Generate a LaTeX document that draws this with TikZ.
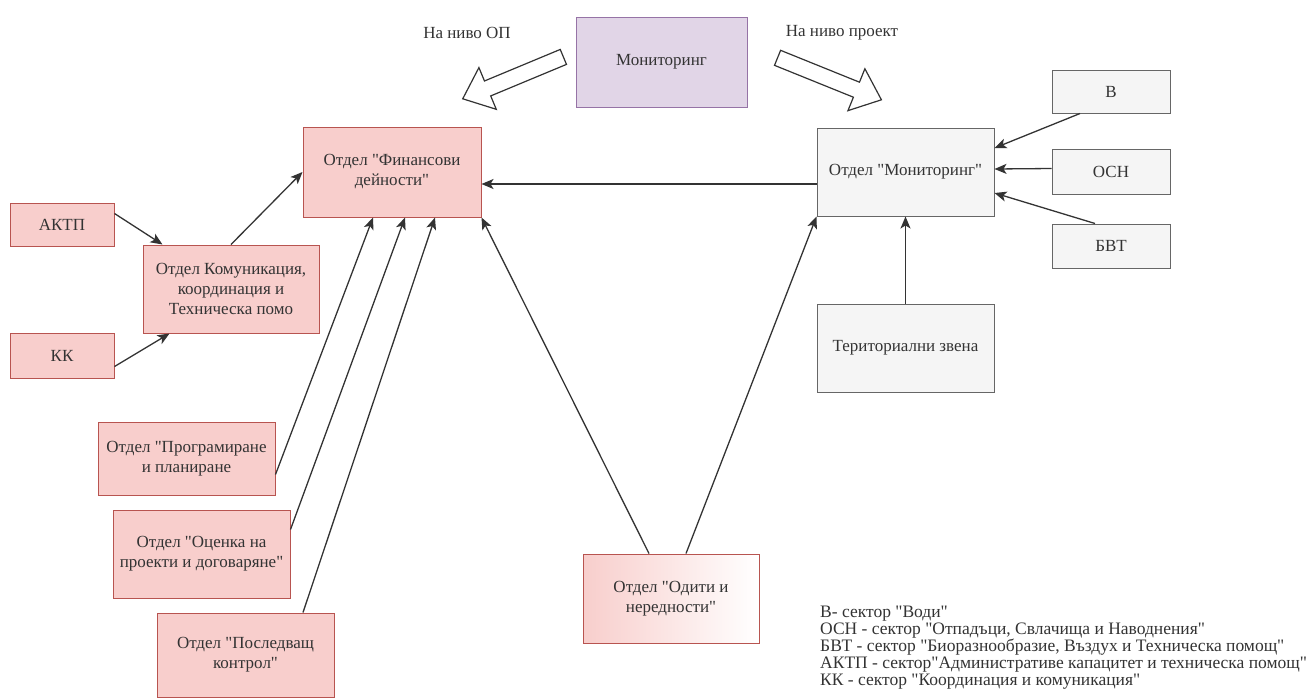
\documentclass[tikz,border=0pt]{standalone}
\usepackage{fontspec}
\setmainfont{Liberation Serif}[Ligatures=TeXOff]
\usetikzlibrary{arrows.meta,shapes.arrows}
\definecolor{pinkfill}{HTML}{F8CECC}
\definecolor{pinkline}{HTML}{B85450}
\definecolor{greyfill}{HTML}{F5F5F5}
\definecolor{greyline}{HTML}{666666}
\definecolor{lilacfill}{HTML}{E1D5E7}
\definecolor{lilacline}{HTML}{9673A6}
\definecolor{ink}{HTML}{333333}

\begin{document}
\begin{tikzpicture}[x=1pt,y=-1pt,
    box/.style={draw,line width=1pt,align=center,inner sep=2pt,text=ink,font=\fontsize{17}{20}\selectfont},
    pinkbox/.style={box,fill=pinkfill,draw=pinkline},
    greybox/.style={box,fill=greyfill,draw=greyline},
    link/.style={-{Stealth[length=12pt,width=10pt,inset=3pt]},line width=1.3pt,draw=ink},
    bigarrow/.style={single arrow,draw=ink,fill=white,line width=1.2pt,inner sep=7.5pt,
        single arrow head extend=14.5pt,single arrow tip angle=80}]
    \useasboundingbox (0,0) rectangle (1312,697);

    % top
    \node[box,fill=lilacfill,draw=lilacline,minimum width=171,minimum height=90] (mon) at (661.5,62) {Мониторинг};
    \node[text=ink,font=\fontsize{17}{20}\selectfont] (levop) at (467,33) {На ниво ОП};
    \node[text=ink,font=\fontsize{17}{20}\selectfont] (levpr) at (842,33) {На ниво проект};
    \node[bigarrow,minimum height=109,rotate=202.6] (arrop) at (517.5,76) {};
    \node[bigarrow,minimum height=112,rotate=-22] (arrpr) at (825,77) {};

    % left side
    \node[pinkbox,minimum width=178,minimum height=90] (fin) at (392,172) {Отдел "Финансови\\дейности"};
    \node[pinkbox,minimum width=104,minimum height=43] (aktp) at (62,224.5) {АКТП};
    \node[pinkbox,minimum width=176,minimum height=88] (kom) at (231,289) {Отдел Комуникация,\\координация и\\Техническа помо};
    \node[pinkbox,minimum width=104,minimum height=45] (kk) at (62,355.5) {КК};
    \node[pinkbox,minimum width=177,minimum height=73] (prog) at (186.5,458.5) {Отдел "Програмиране\\и планиране};
    \node[pinkbox,minimum width=177,minimum height=88] (ocen) at (201.5,554) {Отдел "Оценка на\\проекти и договаряне"};
    \node[pinkbox,minimum width=177,minimum height=84] (posl) at (245.5,655) {Отдел "Последващ\\контрол"};
    \node[box,left color=pinkfill,right color=white,draw=pinkline,minimum width=176,minimum height=89] (odit) at (671,598.5) {Отдел "Одити и\\нередности"};

    % right side
    \node[greybox,minimum width=177,minimum height=88] (omon) at (905.5,172) {Отдел "Мониторинг"};
    \node[greybox,minimum width=118,minimum height=43] (v) at (1111,91.5) {В};
    \node[greybox,minimum width=118,minimum height=45] (osn) at (1111,171.5) {ОСН};
    \node[greybox,minimum width=118,minimum height=44] (bvt) at (1111,246) {БВТ};
    \node[greybox,minimum width=177,minimum height=88] (ter) at (905.5,348) {Териториални звена};

    \draw[link] ([yshift=11]aktp.east) -- ([xshift=20]kom.north west);
    \draw[link] ([yshift=-11]kk.east) -- ([xshift=27]kom.south west);
    \draw[link] (kom.north) -- (fin.west);
    \draw[link] ([yshift=-16]prog.east) -- ([xshift=-19]fin.south);
    \draw[link] ([yshift=-20]ocen.north east) -- ([xshift=13]fin.south);
    \draw[link] ([xshift=57.5]posl.north) -- ([xshift=43]fin.south);
    \draw[link] ([xshift=-22]odit.north) -- (fin.south east);
    \draw[link] ([xshift=15]odit.north) -- (omon.south west);
    \draw[link] ([yshift=-12]omon.west) -- ([yshift=-12]fin.east);
    \draw[link] ([xshift=-31]v.south) -- ([yshift=24]omon.east);
    \draw[link] ([yshift=3]osn.west) -- ([yshift=3]omon.east);
    \draw[link] ([xshift=-16]bvt.north) -- ([yshift=-21]omon.east);
    \draw[link] (ter.north) -- (omon.south);

    % legend
    \node[anchor=north west,align=left,inner sep=0,text=ink,font=\fontsize{17.5}{17}\selectfont] (legend) at (820,606)
        {В- сектор "Води"\\
         ОСН - сектор "Отпадъци, Свлачища и Наводнения"\\
         БВТ - сектор "Биоразнообразие, Въздух и Техническа помощ"\\
         АКТП - сектор"Административе капацитет и техническа помощ"\\
         КК - сектор "Координация и комуникация"};
\end{tikzpicture}
\end{document}
